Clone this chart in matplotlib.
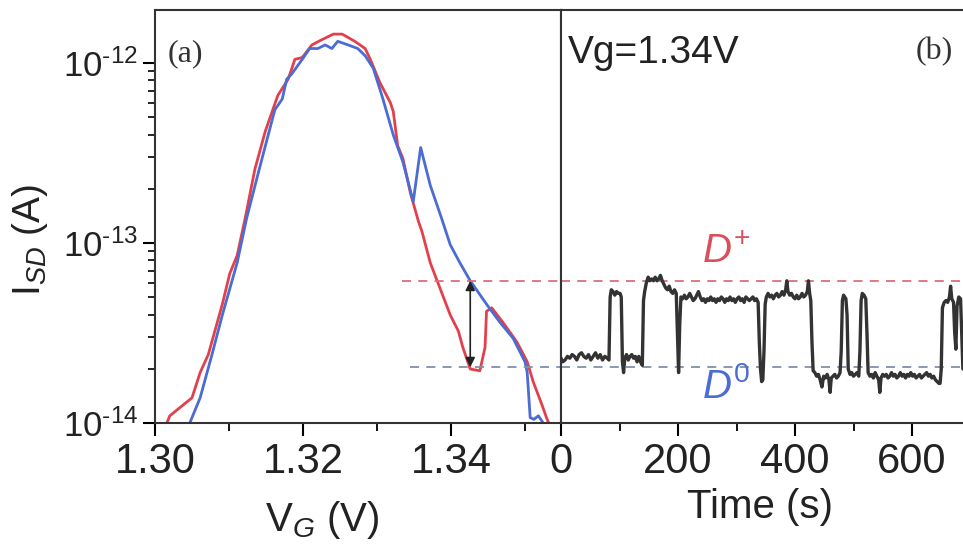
import matplotlib
matplotlib.use("Agg")
import numpy as np
from matplotlib import pyplot as plt
from matplotlib.ticker import FixedLocator, LogLocator, MultipleLocator, NullFormatter

plt.rcParams['font.family'] = ['Liberation Sans', 'DejaVu Sans']
plt.rcParams['mathtext.fontset'] = 'custom'
plt.rcParams['mathtext.rm'] = 'Liberation Sans'
plt.rcParams['mathtext.it'] = 'Liberation Sans:italic'

# (a) gate sweep, log10 of current
red_v = [1.3016, 1.3020, 1.3050, 1.3061, 1.3072, 1.3091, 1.3101, 1.3111, 1.3122, 1.3135,
         1.3149, 1.3166, 1.3180, 1.3189, 1.3199, 1.3212, 1.3226, 1.3241, 1.3253, 1.3270,
         1.3284, 1.3291, 1.3304, 1.3318, 1.3322, 1.3328, 1.3335, 1.3345, 1.3356, 1.3361,
         1.3372, 1.3385, 1.3399, 1.3410, 1.3416, 1.3426, 1.3439, 1.3446, 1.3448, 1.3455,
         1.3470, 1.3489, 1.3503, 1.3511, 1.3523, 1.3529, 1.3532]
red_log = [-14.0, -13.96, -13.86, -13.72, -13.62, -13.34, -13.17, -13.07, -12.86, -12.59,
           -12.38, -12.18, -12.09, -11.98, -11.97, -11.90, -11.87, -11.84, -11.84, -11.88,
           -11.92, -11.98, -12.11, -12.22, -12.27, -12.46, -12.53, -12.72, -12.88, -12.94,
           -13.11, -13.25, -13.40, -13.49, -13.58, -13.70, -13.71, -13.58, -13.38, -13.36,
           -13.44, -13.55, -13.66, -13.77, -13.90, -13.97, -14.0]

blue_v = [1.3047, 1.3061, 1.3077, 1.3091, 1.3111, 1.3124, 1.3139, 1.3153, 1.3162, 1.3172,
          1.3178, 1.3185, 1.3199, 1.3209, 1.3220, 1.3230, 1.3239, 1.3247, 1.3261, 1.3274,
          1.3284, 1.3295, 1.3308, 1.3322, 1.3335, 1.3349, 1.3359, 1.3372, 1.3387, 1.3399,
          1.3412, 1.3426, 1.3448, 1.3466, 1.3484, 1.3500, 1.3503, 1.3507, 1.3512, 1.3518,
          1.3523]
blue_log = [-14.0, -13.86, -13.62, -13.40, -13.11, -12.86, -12.62, -12.40, -12.26, -12.20,
            -12.09, -12.06, -11.98, -11.92, -11.92, -11.90, -11.92, -11.88, -11.90, -11.92,
            -11.96, -12.03, -12.20, -12.40, -12.55, -12.77, -12.47, -12.68, -12.86, -13.01,
            -13.11, -13.21, -13.34, -13.44, -13.53, -13.66, -13.72, -13.97, -13.98, -13.96,
            -13.99]

# (b) telegraph trace at Vg=1.34V
trace_t = [0, 3, 7, 11, 15, 19, 23, 27, 31, 35, 39, 43, 47, 51, 55, 59, 63, 67, 71, 75, 79, 82,
           84, 86, 89, 92, 95, 98, 101, 103,
           105, 107, 109, 112, 115, 118, 121, 124, 127, 130, 133, 136, 139,
           141, 143, 146, 149, 152, 155, 158, 161, 164, 167, 170, 173, 176, 179, 182, 185, 188, 191, 194, 197,
           199, 201, 203, 205, 208, 211, 214, 217, 220, 223, 226, 229, 232, 235, 238, 241, 244, 247, 250,
           253, 256, 259, 262, 265, 268, 271, 274, 277, 280, 283, 286, 289, 292, 295, 298, 301, 304, 307,
           310, 313, 316, 319, 322, 325, 328, 331, 334, 337,
           339, 341, 343, 345, 347, 349, 351, 354, 357, 360, 363, 366, 369, 372, 375, 378, 381, 384, 386,
           388, 391, 394, 397, 400, 403, 406, 409, 412, 415, 418, 421, 423, 425, 427,
           429, 431, 434, 437, 440, 443, 446, 449, 452, 455, 458, 460, 462, 465, 468, 471, 474, 477,
           479, 481, 483, 485, 487, 489, 491, 494, 497, 500, 503, 506, 509, 511, 513, 515, 518, 521,
           523, 525, 528, 531, 534, 537, 540, 543, 545, 547, 550, 553, 556, 559, 562, 565, 568, 571,
           574, 577, 580, 583, 586, 589, 592, 595, 598, 601, 604, 607, 610, 613, 616, 619, 622, 625,
           628, 631, 634, 637, 640, 643, 646, 648, 650, 652, 655, 658, 661, 664, 666, 668, 671, 673,
           675, 677, 680, 683, 685, 687, 690]
trace_log = [-13.64, -13.66, -13.65, -13.63, -13.64, -13.62, -13.63, -13.65, -13.62, -13.61, -13.63,
             -13.64, -13.62, -13.65, -13.63, -13.61, -13.64, -13.62, -13.65, -13.63, -13.64, -13.65,
             -13.30, -13.26, -13.27, -13.29, -13.27, -13.28, -13.28, -13.30,
             -13.66, -13.72, -13.64, -13.62, -13.65, -13.63, -13.62, -13.64, -13.63, -13.66, -13.63,
             -13.66, -13.68,
             -13.32, -13.27, -13.22, -13.19, -13.21, -13.20, -13.21, -13.19, -13.21, -13.20, -13.18,
             -13.21, -13.23, -13.25, -13.26, -13.24, -13.27, -13.28, -13.26, -13.28,
             -13.50, -13.72, -13.45, -13.30, -13.31, -13.29, -13.31, -13.30, -13.28, -13.30, -13.32,
             -13.31, -13.29, -13.27, -13.30, -13.32, -13.31, -13.33, -13.31,
             -13.32, -13.30, -13.32, -13.31, -13.33, -13.31, -13.32, -13.30, -13.31, -13.33, -13.31,
             -13.32, -13.30, -13.32, -13.31, -13.33, -13.31, -13.30, -13.32,
             -13.31, -13.33, -13.30, -13.31, -13.32, -13.31, -13.30, -13.32, -13.31, -13.33,
             -13.55, -13.70, -13.77, -13.76, -13.60, -13.34, -13.30, -13.28, -13.30, -13.29, -13.31,
             -13.29, -13.28, -13.30, -13.29, -13.27, -13.29, -13.26, -13.21,
             -13.27, -13.29, -13.28, -13.30, -13.31, -13.29, -13.31, -13.30, -13.28, -13.30, -13.29,
             -13.27, -13.21, -13.28, -13.32,
             -13.55, -13.71, -13.72, -13.74, -13.73, -13.76, -13.80, -13.74, -13.75, -13.73, -13.76,
             -13.83, -13.75, -13.74, -13.73, -13.75, -13.74, -13.72,
             -13.60, -13.32, -13.29, -13.30, -13.31, -13.40, -13.70, -13.73, -13.72, -13.74, -13.73,
             -13.72, -13.74, -13.60, -13.32, -13.28, -13.29, -13.31,
             -13.50, -13.72, -13.74, -13.73, -13.75, -13.72, -13.74, -13.76, -13.83, -13.75, -13.73,
             -13.74, -13.73, -13.75, -13.74, -13.72, -13.74, -13.73,
             -13.75, -13.74, -13.72, -13.74, -13.73, -13.75, -13.73, -13.74, -13.72, -13.74, -13.73,
             -13.75, -13.74, -13.73, -13.75, -13.74, -13.73, -13.72,
             -13.74, -13.73, -13.75, -13.74, -13.76, -13.77, -13.78, -13.78, -13.70, -13.36, -13.33,
             -13.32, -13.33, -13.30, -13.24, -13.31, -13.33, -13.50,
             -13.59, -13.35, -13.30, -13.31, -13.50, -13.70, -13.70]

dplus_log = -13.21
dzero_log = -13.69
arrow_v = 1.3426
y_decades = [-14, -13, -12]

red = '#e2404c'
blue = '#4a6cd4'

fig = plt.figure(figsize=(9.63, 5.56), dpi=100)
ax1 = fig.add_axes([155 / 963, 1 - 423 / 556, 406 / 963, 413 / 556])
ax2 = fig.add_axes([561 / 963, 1 - 423 / 556, 402 / 963, 413 / 556], sharey=ax1)

ax1.plot(red_v, 10 ** np.array(red_log), color=red, lw=2)
ax1.plot(blue_v, 10 ** np.array(blue_log), color=blue, lw=2)
ax1.set_yscale('log')
ax1.set_xlim(1.30, 1.30 + 406 / 7400)
ax1.set_ylim(1e-14, 10 ** -11.706)

# dashed reference levels run across both panels
ax1.plot([1.3334, 1.36], [10 ** dplus_log] * 2, color='#d9707c', lw=1.3, ls=(0, (5, 4)))
ax1.plot([1.3345, 1.36], [10 ** dzero_log] * 2, color='#8290aa', lw=1.3, ls=(0, (5, 4)))
ax2.axhline(10 ** dplus_log, color='#d9707c', lw=1.3, ls=(0, (5, 4)))
ax2.axhline(10 ** dzero_log, color='#8290aa', lw=1.3, ls=(0, (5, 4)))

ax1.annotate('', xy=(arrow_v, 10 ** dplus_log), xytext=(arrow_v, 10 ** dzero_log),
             arrowprops=dict(arrowstyle='<|-|>', color='#222222', lw=1.2,
                             mutation_scale=14, shrinkA=0, shrinkB=0))

ax2.plot(trace_t, 10 ** np.array(trace_log), color='#333333', lw=2.4)
ax2.set_xlim(0, 402 * 200 / 117)

for ax in (ax1, ax2):
    for s in ax.spines.values():
        s.set_linewidth(1.5)
        s.set_color('#333333')
ax2.spines['right'].set_visible(False)

ax1.xaxis.set_major_locator(MultipleLocator(0.02))
ax1.xaxis.set_minor_locator(MultipleLocator(0.01))
ax1.xaxis.set_major_formatter(plt.FuncFormatter(lambda v, p: f"{v:.2f}"))
ax1.yaxis.set_major_locator(FixedLocator([10.0 ** d for d in y_decades]))
ax1.yaxis.set_major_formatter(plt.FuncFormatter(
    lambda v, p: r'10$^{\text{-%d}}$' % round(-np.log10(v))))
ax1.yaxis.set_minor_locator(LogLocator(base=10, subs=np.arange(2, 10), numticks=10))
ax1.yaxis.set_minor_formatter(NullFormatter())
ax1.tick_params(axis='x', which='major', direction='out', length=9, width=1.5, labelsize=30, pad=5,
                top=False)
ax1.tick_params(axis='x', which='minor', direction='out', length=6, width=1.3, top=False)
ax1.tick_params(axis='y', which='major', direction='out', length=9, width=1.5, labelsize=25, pad=3,
                right=False)
ax1.tick_params(axis='y', which='minor', direction='out', length=5, width=1.2, right=False)

ax2.xaxis.set_major_locator(MultipleLocator(200))
ax2.xaxis.set_minor_locator(MultipleLocator(100))
ax2.tick_params(axis='x', which='major', direction='out', length=9, width=1.5, labelsize=30, pad=5,
                top=False)
ax2.tick_params(axis='x', which='minor', direction='out', length=6, width=1.3, top=False)
ax2.tick_params(axis='y', which='both', left=False, right=False, labelleft=False)

ax1.text(0.032, 0.893, '(a)', transform=ax1.transAxes, fontsize=23,
         family=['Liberation Serif'], color='#333333', va='center')
ax2.text(0.017, 0.897, 'Vg=1.34V', transform=ax2.transAxes, fontsize=28,
         color='#222222', va='center')
ax2.text(0.883, 0.90, '(b)', transform=ax2.transAxes, fontsize=23,
         family=['Liberation Serif'], color='#333333', va='center')

ax2.text(282, 10 ** -13.05, r'$\mathit{D}^{+}$', color='#d9505c', fontsize=29, ha='center', va='center')
ax2.text(282, 10 ** -13.80, r'$\mathit{D}^{0}$', color='#4a6cd4', fontsize=29, ha='center', va='center')

fig.text(30 / 963, 1 - 240 / 556, r'I$_{SD}$ (A)', rotation=90, fontsize=28, color='#222222',
         ha='center', va='center')
fig.text(322 / 963, 1 - 520 / 556, r'V$_{G}$ (V)', fontsize=29, color='#222222',
         ha='center', va='center')
fig.text(760 / 963, 1 - 507 / 556, 'Time (s)', fontsize=29, color='#222222',
         ha='center', va='center')

for lab in ax1.get_xticklabels() + ax1.get_yticklabels() + ax2.get_xticklabels():
    lab.set_color('#222222')

fig.savefig('out.png', dpi=100)
